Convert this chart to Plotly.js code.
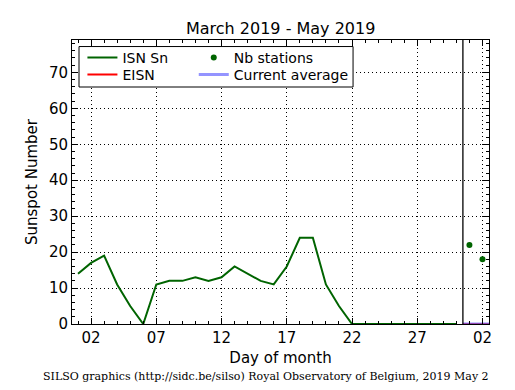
<!DOCTYPE html>
<html>
<head>
<meta charset="utf-8">
<script src="https://cdn.plot.ly/plotly-3.0.1.min.js"></script>
<style>html,body{margin:0;padding:0;background:#fff;}#chart{width:515px;height:390px;}</style>
</head>
<body>
<div id="chart"></div>
<script>
// Days (1..30 = April, 31..32 = May 1, 2)
const days = [1,2,3,4,5,6,7,8,9,10,11,12,13,14,15,16,17,18,19,20,21,22,23,24,25,26,27,28,29,30];
const isnSn = [14,17,19,11,5,0,11,12,12,13,12,13,16,14,12,11,16,24,24,11,5,0,0,0,0,0,0,0,0,0];
const eisnDays = [30.5,32.5];
const eisnValues = [0,0];
const nbDays = [31,32];
const nbStations = [22,18];
const avgDays = [30.5,32.5];
const avgValues = [0,0];
const separatorDay = 30.5;
const tickDays = [2,7,12,17,22,27,32];
const tickLabels = ['02','07','12','17','22','27','02'];
const yTicks = [0,10,20,30,40,50,60,70];

const font = 'DejaVu Sans, sans-serif';
const traces = [
  {x: days, y: isnSn, mode:'lines', name:'ISN Sn', line:{color:'#006400', width:2}, legend:'legend', cliponaxis:false},
  {x: eisnDays, y: eisnValues, mode:'lines', name:'EISN', line:{color:'#ff0000', width:2}, legend:'legend2'},
  {x: nbDays, y: nbStations, mode:'markers', name:'Nb stations', marker:{color:'#006400', size:6}, legend:'legend3'},
  {x: avgDays, y: avgValues, mode:'lines', name:'Current average', line:{color:'rgba(102,102,255,0.7)', width:3}, legend:'legend4'},
  {x: [separatorDay, separatorDay], y:[0,79], mode:'lines', showlegend:false, line:{color:'#000', width:1.3}, hoverinfo:'skip'}
];
const axisCommon = {
  showline:true, linecolor:'#000', linewidth:1, mirror:'ticks',
  ticks:'inside', ticklen:6, tickcolor:'#000', tickwidth:1,
  showgrid:true, gridcolor:'#000', gridwidth:1, griddash:'1px,3px',
  zeroline:false, tickfont:{family:font, size:15, color:'#000'}
};
function leg(x, y) {
  return {x:x, y:y, xanchor:'left', yanchor:'middle', bgcolor:'rgba(0,0,0,0)', borderwidth:0,
    font:{family:font, size:14, color:'#000'}, tracegroupgap:0, itemwidth:30};
}
const layout = {
  width:515, height:390,
  margin:{l:72, r:26, t:40, b:66},
  paper_bgcolor:'#fff', plot_bgcolor:'#fff',
  title:{text:'March 2019 - May 2019', font:{family:font, size:16, color:'#000'}, x:0.545, xanchor:'center', y:0.926, yanchor:'middle'},
  xaxis: Object.assign({}, axisCommon, {
    range:[0.54, 32.5], tickmode:'array', tickvals:tickDays, ticktext:tickLabels,
    minor:{dtick:1, tick0:0, ticks:'inside', ticklen:3, tickcolor:'#000', showgrid:false},
    title:{text:'Day of month', font:{family:font, size:15, color:'#000'}, standoff:6}
  }),
  yaxis: Object.assign({}, axisCommon, {
    range:[0, 79], tickmode:'array', tickvals:yTicks,
    minor:{dtick:2, tick0:0, ticks:'inside', ticklen:3, tickcolor:'#000', showgrid:false},
    title:{text:'Sunspot Number', font:{family:font, size:15, color:'#000'}, standoff:7}
  }),
  legend: leg(0.025, 0.937),
  legend2: leg(0.025, 0.877),
  legend3: leg(0.292, 0.937),
  legend4: leg(0.292, 0.877),
  shapes:[
    {type:'rect', xref:'paper', yref:'paper', x0:0.0168, x1:0.674, y0:0.8345, y1:0.977, line:{color:'#000', width:1}, fillcolor:'#fff', layer:'above'}
  ],
  annotations:[
    {text:'SILSO graphics (http://sidc.be/silso) Royal Observatory of Belgium, 2019 May 2', xref:'paper', yref:'paper', x:0.5, y:-0.185, xanchor:'center', yanchor:'middle', showarrow:false, font:{family:'DejaVu Serif, serif', size:11, color:'#000'}, xshift:-15}
  ],
  showlegend:true
};
Plotly.newPlot('chart', traces, layout, {displayModeBar:false, staticPlot:true});
</script>
</body>
</html>
